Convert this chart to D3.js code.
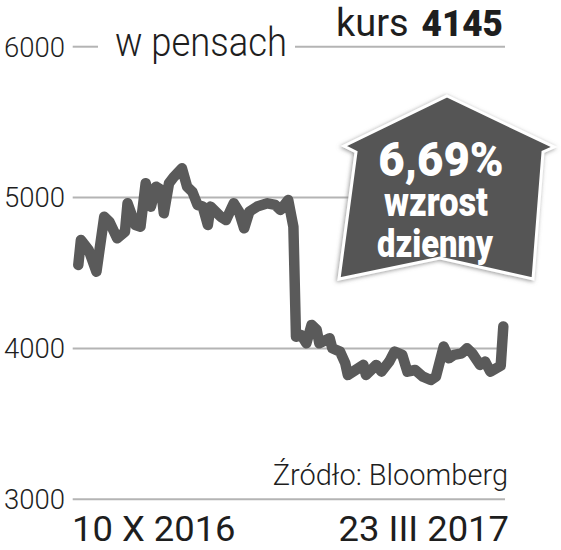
<!DOCTYPE html>
<html>
<head>
<meta charset="utf-8">
<script src="https://cdn.jsdelivr.net/npm/d3@7"></script>
<style>
  html, body { margin: 0; padding: 0; background: #fff; }
  svg { display: block; font-family: Roboto, "Noto Sans", sans-serif; }
</style>
</head>
<body>
<svg id="chart" width="561" height="550"></svg>
<script>
// ---- data ----
const dates = [
  "2016-10-10","2016-10-11","2016-10-14","2016-10-17","2016-10-20","2016-10-22","2016-10-25","2016-10-28","2016-10-29",
  "2016-11-01","2016-11-03","2016-11-05","2016-11-07","2016-11-09","2016-11-11","2016-11-12","2016-11-14","2016-11-16",
  "2016-11-19","2016-11-21","2016-11-23","2016-11-25","2016-11-27","2016-11-29","2016-11-30",
  "2016-12-04","2016-12-06","2016-12-09","2016-12-11","2016-12-13","2016-12-15","2016-12-18","2016-12-22","2016-12-25",
  "2016-12-27","2016-12-30","2017-01-01","2017-01-02","2017-01-04","2017-01-06","2017-01-08","2017-01-10","2017-01-11",
  "2017-01-15","2017-01-16","2017-01-19","2017-01-21","2017-01-22","2017-01-25","2017-01-28","2017-01-29",
  "2017-02-02","2017-02-04","2017-02-07","2017-02-09","2017-02-12","2017-02-14","2017-02-17","2017-02-20","2017-02-23",
  "2017-02-25","2017-02-28","2017-03-02","2017-03-04","2017-03-07","2017-03-09","2017-03-11","2017-03-14","2017-03-16",
  "2017-03-18","2017-03-22","2017-03-23"
];
const prices = [
  4553,4719,4653,4509,4873,4840,4730,4774,4962,
  4818,4807,5095,4940,5072,5050,4896,5095,5139,
  5194,5072,5039,4951,4940,4818,4940,
  4873,4851,4962,4907,4796,4907,4940,4962,4951,
  4918,4984,4807,4078,4089,4034,4156,4123,4034,
  4067,4001,3979,3902,3824,3857,3891,3824,
  3891,3846,3913,3979,3957,3846,3857,3813,3791,
  3813,4012,3935,3957,3968,4001,3968,3891,3913,
  3846,3885,4145
];
const yTicks = [3000, 4000, 5000, 6000];
const xLabels = ["10 X 2016", "23 III 2017"];
const unitLabel = "w pensach";
const kursLabel = "kurs";
const kursValue = "4145";
const badgeLines = ["6,69%", "wzrost", "dzienny"];
const sourceLabel = "Źródło: Bloomberg";

// ---- setup ----
const svg = d3.select("#chart");
const parse = d3.timeParse("%Y-%m-%d");
const data = dates.map((d, i) => ({ date: parse(d), value: prices[i] }));

const x = d3.scaleTime()
  .domain([parse(dates[0]), parse(dates[dates.length - 1])])
  .range([78.3, 503.3]);
const y = d3.scaleLinear().domain([3000, 6000]).range([499.3, 46.7]);

const gridColor = "#b4b4b4";
const textColor = "#1e1e1e";

// grid lines
const grid = svg.append("g");
yTicks.forEach(t => {
  if (t === 6000) {
    grid.append("line").attr("x1", 72.7).attr("x2", 98).attr("y1", y(t)).attr("y2", y(t))
      .attr("stroke", gridColor).attr("stroke-width", 2);
    grid.append("line").attr("x1", 295).attr("x2", 505).attr("y1", y(t)).attr("y2", y(t))
      .attr("stroke", gridColor).attr("stroke-width", 2);
  } else {
    grid.append("line").attr("x1", 72.7).attr("x2", 505).attr("y1", y(t)).attr("y2", y(t))
      .attr("stroke", gridColor).attr("stroke-width", 2);
  }
});

// y tick labels
svg.append("g").selectAll("text").data(yTicks).join("text")
  .attr("x", 65).attr("y", d => y(d))
  .attr("dy", "0.36em")
  .attr("text-anchor", "end")
  .attr("font-size", 27.5).attr("font-weight", 300)
  .attr("fill", textColor)
  .text(d => d);

// unit label
svg.append("text")
  .attr("transform", "translate(115,56) scale(0.91,1)")
  .attr("font-size", 40).attr("font-weight", 300)
  .attr("fill", textColor).text(unitLabel);

// kurs label
svg.append("text")
  .attr("x", 336).attr("y", 36)
  .attr("font-size", 38).attr("font-weight", 400)
  .attr("fill", textColor).text(kursLabel);
svg.append("text")
  .attr("transform", "translate(503,36) scale(0.95,1)")
  .attr("text-anchor", "end")
  .attr("font-size", 37).attr("font-weight", 900)
  .attr("fill", textColor).text(kursValue);

// line
const line = d3.line().x(d => x(d.date)).y(d => y(d.value)).curve(d3.curveLinear);
svg.append("path").datum(data)
  .attr("d", line)
  .attr("fill", "none")
  .attr("stroke", "#5a5a5a")
  .attr("stroke-width", 10.5)
  .attr("stroke-linejoin", "round")
  .attr("stroke-linecap", "round");

// badge
const defs = svg.append("defs");
const f = defs.append("filter").attr("id", "shadow").attr("x", "-20%").attr("y", "-20%").attr("width", "140%").attr("height", "140%");
f.append("feDropShadow").attr("dx", -1).attr("dy", 1).attr("stdDeviation", 2.2).attr("flood-color", "#7a7a7a").attr("flood-opacity", 0.8);

const badgePts = [[447, 96], [554, 147], [543, 152], [533, 279], [440, 258], [339, 279], [356, 152], [344, 146]];
svg.append("polygon")
  .attr("points", badgePts.map(p => p.join(",")).join(" "))
  .attr("fill", "#555555")
  .attr("stroke", "#ffffff")
  .attr("stroke-width", 3)
  .attr("stroke-linejoin", "miter")
  .attr("filter", "url(#shadow)");

const badgeText = svg.append("g").attr("fill", "#ffffff").attr("font-weight", 900).attr("text-anchor", "middle");
badgeText.append("text")
  .attr("transform", "translate(441,176) scale(0.95,1)")
  .attr("font-size", 48).text(badgeLines[0]);
badgeText.append("text")
  .attr("transform", "translate(436,216) scale(0.86,1)")
  .attr("font-size", 40).text(badgeLines[1]);
badgeText.append("text")
  .attr("transform", "translate(435,257) scale(0.84,1)")
  .attr("font-size", 39).text(badgeLines[2]);

// source
svg.append("text")
  .attr("x", 508).attr("y", 485).attr("text-anchor", "end")
  .attr("font-size", 29).attr("font-weight", 300)
  .attr("fill", textColor).text(sourceLabel);

// x labels
svg.append("text")
  .attr("transform", "translate(72,541) scale(1.04,1)")
  .attr("font-size", 35).attr("font-weight", 400)
  .attr("fill", textColor).text(xLabels[0]);
svg.append("text")
  .attr("transform", "translate(509,541) scale(1.04,1)")
  .attr("text-anchor", "end")
  .attr("font-size", 35).attr("font-weight", 400)
  .attr("fill", textColor).text(xLabels[1]);
</script>
</body>
</html>
